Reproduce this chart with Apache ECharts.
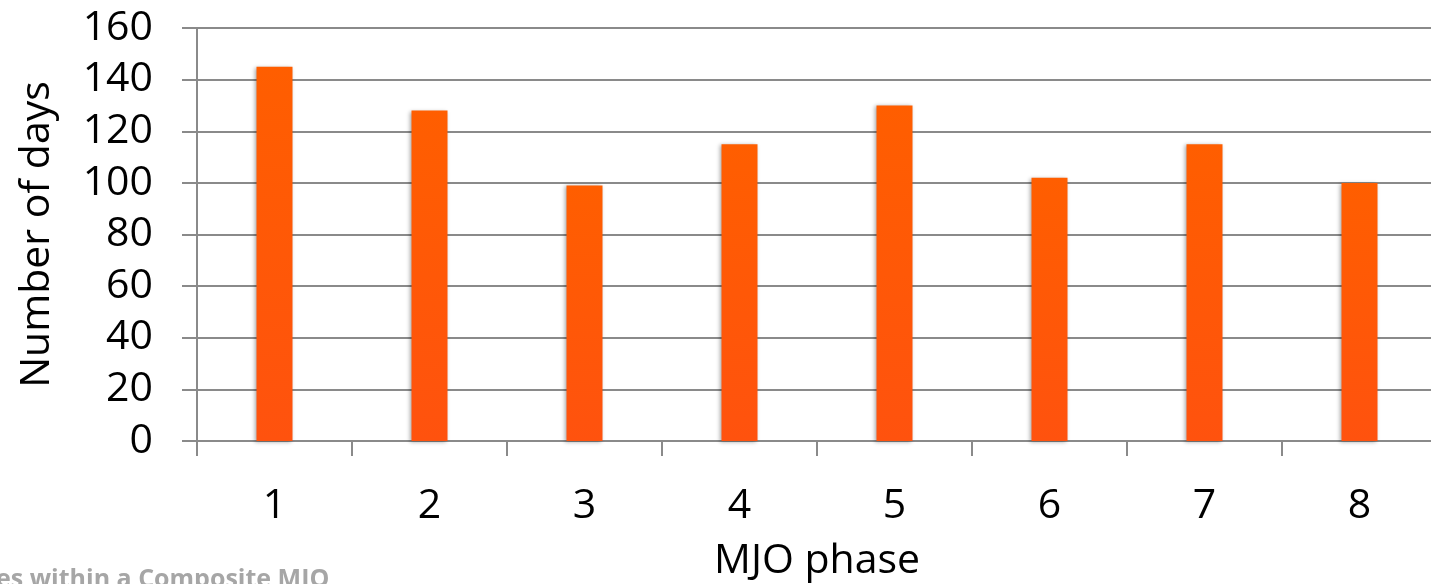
<!DOCTYPE html>
<html>
<head>
<meta charset="utf-8">
<script src="https://cdn.jsdelivr.net/npm/echarts@6/dist/echarts.min.js"></script>
<style>
  html, body { margin: 0; padding: 0; background: #ffffff; }
  #chart { width: 1431px; height: 584px; }
</style>
</head>
<body>
<div id="chart"></div>
<script>
// MJO phase categories and day counts per phase
const phases = ['1', '2', '3', '4', '5', '6', '7', '8'];
const dayCounts = [145, 128, 99, 115, 130, 102, 115, 100];
const yTicks = { min: 0, max: 160, interval: 20 };

const FONT = '"Open Sans", "Liberation Sans", sans-serif';
const AXIS_GRAY = '#8a8a8a';

const chart = echarts.init(document.getElementById('chart'), null, { renderer: 'canvas' });

chart.setOption({
  backgroundColor: '#ffffff',
  animation: false,
  grid: {
    left: 197, right: -6, top: 28, bottom: 143,
    containLabel: false,
    outerBoundsMode: 'none'
  },
  xAxis: {
    type: 'category',
    data: phases,
    boundaryGap: true,
    name: 'MJO phase',
    nameLocation: 'middle',
    nameGap: 100,
    nameTextStyle: { fontFamily: FONT, fontSize: 41, color: '#000' },
    axisLine: { show: true, lineStyle: { color: AXIS_GRAY, width: 2 } },
    axisTick: { show: true, length: 15, alignWithLabel: false, lineStyle: { color: AXIS_GRAY, width: 2 } },
    axisLabel: { fontFamily: FONT, fontSize: 41, color: '#000', margin: 45 },
    splitLine: { show: false }
  },
  yAxis: {
    type: 'value',
    min: yTicks.min,
    max: yTicks.max,
    interval: yTicks.interval,
    name: 'Number of days',
    nameLocation: 'middle',
    nameGap: 139,
    nameRotate: 90,
    nameTextStyle: { fontFamily: FONT, fontSize: 41, color: '#000' },
    axisLine: { show: true, lineStyle: { color: AXIS_GRAY, width: 2 } },
    axisTick: { show: true, length: 15, lineStyle: { color: AXIS_GRAY, width: 2 } },
    axisLabel: { fontFamily: FONT, fontSize: 41, color: '#000', margin: 44 },
    splitLine: { show: true, lineStyle: { color: AXIS_GRAY, width: 2 } }
  },
  series: [{
    type: 'bar',
    data: dayCounts,
    barWidth: 36,
    itemStyle: {
      color: new echarts.graphic.LinearGradient(0, 0, 0, 1, [
        { offset: 0, color: '#ff5e00' },
        { offset: 1, color: '#ff520e' }
      ]),
      shadowColor: 'rgba(0,0,0,0.35)',
      shadowBlur: 4,
      shadowOffsetX: -2,
      shadowOffsetY: 1
    }
  }],
  graphic: [{
    type: 'text',
    left: -4,
    top: 567,
    silent: true,
    style: {
      text: 'es within a Composite MJO',
      fontFamily: FONT,
      fontWeight: 'bold',
      fontSize: 25,
      fill: '#a6a6a6'
    }
  }]
});
</script>
</body>
</html>
